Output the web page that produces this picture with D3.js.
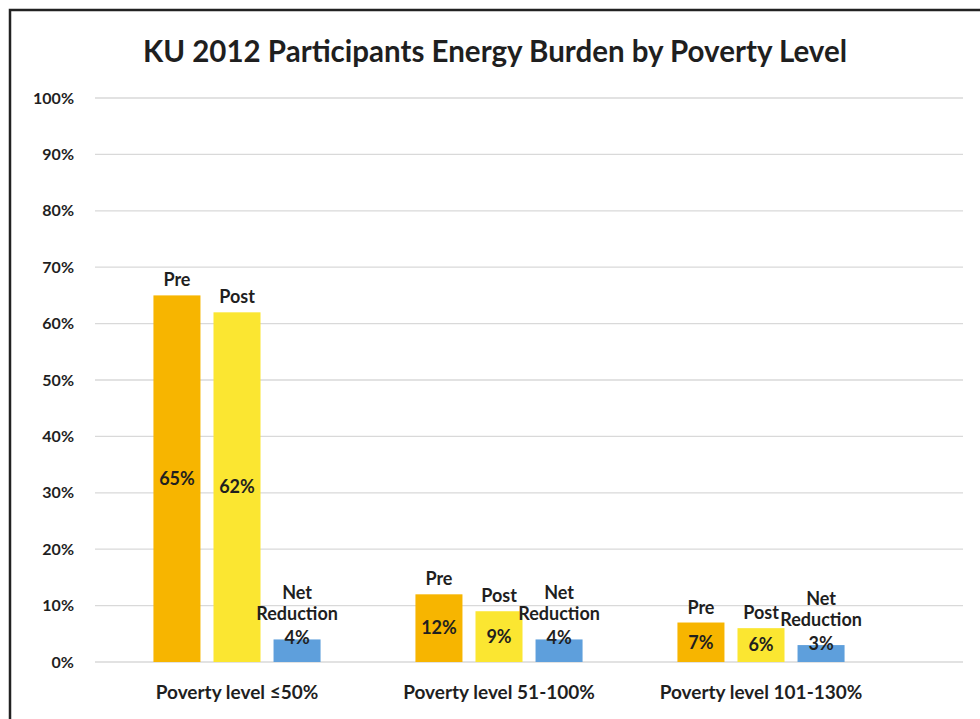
<!DOCTYPE html>
<html>
<head>
<meta charset="utf-8">
<script src="https://cdn.jsdelivr.net/npm/d3@7"></script>
<style>
  body { margin: 0; background: #fff; }
  text { font-family: Lato, "Open Sans", sans-serif; font-weight: bold; fill: #1f1f1f; }
</style>
</head>
<body>
<div id="content"></div>
<script>
// Data.
var categories = ['Poverty level \u226450%', 'Poverty level 51-100%', 'Poverty level 101-130%'];
var seriesNames = ['Pre', 'Post', 'Net Reduction'];
var preValues = [65, 12, 7];
var postValues = [62, 9, 6];
var netValues = [4, 4, 3];
var yTicks = [0, 10, 20, 30, 40, 50, 60, 70, 80, 90, 100];

var colors = ['#F7B500', '#FBE631', '#5E9FDC'];

var W = 980, H = 719;
var svg = d3.select('#content').append('svg')
    .attr('width', W).attr('height', H);

// Frame (top and left border).
svg.append('path')
    .attr('d', 'M10,' + H + 'V10H' + W)
    .attr('fill', 'none')
    .attr('stroke', '#222')
    .attr('stroke-width', 2.5);

// Title.
svg.append('text')
    .attr('x', 495).attr('y', 62)
    .attr('text-anchor', 'middle')
    .attr('font-size', 29.5)
    .text('KU 2012 Participants Energy Burden by Poverty Level');

var y = d3.scaleLinear().domain([0, 100]).range([662, 98]);
var x = d3.scaleBand().domain(categories).range([106, 892]);
var xs = d3.scaleBand().domain(seriesNames).range([0, x.bandwidth()])
    .paddingInner(0.217).paddingOuter(0.79);

// Gridlines.
svg.append('g').selectAll('line')
    .data(yTicks).enter().append('line')
    .attr('x1', 95).attr('x2', 963)
    .attr('y1', function(d) { return y(d); })
    .attr('y2', function(d) { return y(d); })
    .attr('stroke', '#d9d9d9')
    .attr('stroke-width', 1.3);

// Y axis labels.
svg.append('g').selectAll('text')
    .data(yTicks).enter().append('text')
    .attr('x', 74)
    .attr('y', function(d) { return y(d); })
    .attr('dy', '0.35em')
    .attr('text-anchor', 'end')
    .attr('font-size', 16)
    .text(function(d) { return d + '%'; });

// Category labels.
svg.append('g').selectAll('text')
    .data(categories).enter().append('text')
    .attr('x', function(d) { return x(d) + x.bandwidth() / 2; })
    .attr('y', 699)
    .attr('text-anchor', 'middle')
    .attr('font-size', 19)
    .text(function(d) { return d; });

// Flatten into bar records.
var bars = [];
categories.forEach(function(c, i) {
  [preValues, postValues, netValues].forEach(function(vals, s) {
    bars.push({cat: c, series: seriesNames[s], s: s, value: vals[i]});
  });
});

var groups = svg.append('g').selectAll('g')
    .data(bars).enter().append('g')
    .attr('transform', function(d) {
      return 'translate(' + (x(d.cat) + xs(d.series)) + ',0)';
    });

groups.append('rect')
    .attr('x', 0)
    .attr('width', xs.bandwidth())
    .attr('y', function(d) { return y(d.value); })
    .attr('height', function(d) { return y(0) - y(d.value); })
    .attr('fill', function(d) { return colors[d.s]; });

var cx = xs.bandwidth() / 2;

// Series name labels above bars, values inside.
groups.each(function(d) {
  var g = d3.select(this);
  var top = y(d.value);
  if (d.s < 2) {
    g.append('text')
        .attr('x', cx).attr('y', top - 9)
        .attr('text-anchor', 'middle')
        .attr('font-size', 18)
        .text(d.series);
    g.append('text')
        .attr('x', cx).attr('y', (top + y(0)) / 2)
        .attr('dy', '0.35em')
        .attr('text-anchor', 'middle')
        .attr('font-size', 18)
        .text(d.value + '%');
  } else {
    g.append('text')
        .attr('x', cx).attr('y', top - 40)
        .attr('text-anchor', 'middle')
        .attr('font-size', 18)
        .text('Net');
    g.append('text')
        .attr('x', cx).attr('y', top - 19)
        .attr('text-anchor', 'middle')
        .attr('font-size', 18)
        .text('Reduction');
    g.append('text')
        .attr('x', cx).attr('y', top + 5)
        .attr('text-anchor', 'middle')
        .attr('font-size', 18)
        .text(d.value + '%');
  }
});
</script>
</body>
</html>
